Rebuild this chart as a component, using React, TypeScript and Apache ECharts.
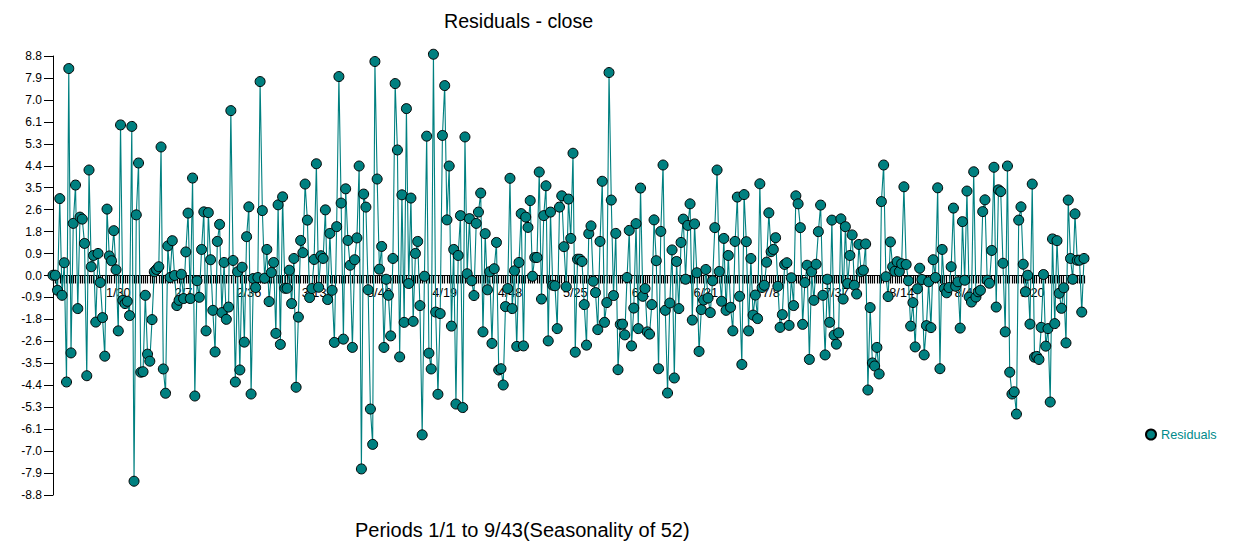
import React, { useEffect, useRef } from "react";
import * as echarts from "echarts";

const titleText = "Residuals - close";
const subtitleText = "Periods 1/1 to 9/43(Seasonality of 52)";
const seriesName = "Residuals";
const yMax = 8.76;
const yStep = 0.876;
const periodsPerYear = 52;
const labelEvery = 29;

const residuals = [
  0.01, 0.01, -0.59, 3.07, -0.79, 0.51, -4.25, 8.26, -3.09, 2.08,
  3.61, -1.32, 2.33, 2.25, 1.28, -4.0, 4.21, 0.35, 0.8, -1.86,
  0.88, -0.28, -1.68, -3.22, 2.65, 0.78, 0.59, 1.79, 0.23, -2.21,
  6.01, -0.99, -1.12, -1.03, -1.6, 5.95, -8.21, 2.42, 4.49, -3.86,
  -3.84, -0.79, -3.14, -3.42, -1.76, 0.15, 0.24, 0.35, 5.13, -3.73,
  -4.7, 1.18, -0.08, 1.39, 0.0, -1.2, -0.99, 0.05, -0.92, 0.94,
  2.49, -0.92, 3.89, -4.81, -0.21, -0.87, 1.04, 2.54, -2.21, 2.51,
  0.63, -1.39, -3.05, 1.36, 2.04, -1.48, 0.52, -1.75, -1.26, 6.58,
  0.6, -4.25, 0.15, -3.77, 0.33, -2.66, 1.55, 2.74, -4.73, -0.12,
  -0.48, -0.08, 7.74, 2.59, -0.11, 1.04, -1.04, 0.12, 0.52, -2.31,
  2.82, -2.75, 3.14, -0.51, -0.51, 0.21, -1.12, 0.68, -4.46, -1.66,
  1.4, 0.91, 3.65, 2.21, -0.88, -0.52, 0.64, 4.46, -0.47, 0.79,
  0.68, 2.62, -0.96, 1.68, -0.59, -2.67, 1.95, 7.94, 2.89, -2.54,
  3.46, 1.4, 0.41, -2.87, 0.63, 1.5, 4.37, -7.72, 3.25, 2.73,
  -0.57, -5.33, -6.74, 8.54, 3.85, 0.25, 1.16, -2.87, -0.15, -0.79,
  -2.41, 0.68, 7.66, 5.01, -3.25, 3.22, -1.87, 6.66, -0.32, 3.09,
  -1.83, 0.88, 1.36, -1.2, -6.36, -0.03, 5.56, -3.1, -3.73, 8.83,
  -1.46, -4.74, -1.52, 5.59, 7.58, 2.22, 4.37, -2.02, 1.04, -5.13,
  0.8, 2.39, -5.27, 5.53, 0.07, 2.27, -0.21, -0.8, 2.08, 2.53,
  3.29, -2.25, 1.67, -0.57, 0.15, -2.71, 0.27, 1.32, -3.77, -3.72,
  -4.37, -1.24, -0.52, 3.88, -1.32, 0.19, -2.83, 0.52, 2.47, -2.81,
  2.33, 1.92, 2.99, -0.03, 0.72, 0.72, 4.13, -0.94, 2.39, 3.58,
  -2.61, 2.53, -0.39, -0.41, -2.12, 2.73, 3.18, 1.15, -0.45, 3.05,
  1.48, 4.88, -3.06, 0.65, 0.65, 0.56, -1.16, -2.78, 1.67, 1.98,
  -0.23, -0.68, -2.16, 1.36, 3.76, -1.87, -1.08, 8.1, 3.01, -0.8,
  1.68, -3.76, -1.95, -1.94, -2.37, -0.08, 1.8, -2.81, -1.3, 2.07,
  -2.12, 3.49, -0.83, -0.52, -2.25, -2.34, -1.16, 2.22, 0.59, -3.72,
  1.76, 4.41, -1.39, -4.69, -1.1, 1.02, -4.09, 0.56, -1.32, 1.32,
  2.25, -0.15, 2.0, 2.86, -1.78, 2.06, 0.11, -3.03, -1.36, -0.98,
  0.24, -0.9, -1.48, -0.21, 1.91, 4.21, 0.16, -1.03, 1.48, -1.39,
  0.8, -1.27, -2.21, 1.36, 3.13, -0.83, -3.55, 3.23, 1.35, -2.21,
  0.68, -1.58, -0.78, -1.72, 3.66, -0.48, -0.39, 0.53, 2.5, 0.95,
  1.04, 1.51, -0.43, -2.07, -1.56, 0.44, 0.51, -1.99, -0.09, -1.2,
  3.18, 2.86, 1.91, -1.95, -0.28, 0.41, -3.35, 0.15, -0.99, 0.45,
  1.75, 2.81, -0.79, -3.17, -0.15, -1.87, 2.21, -2.38, -2.74, -2.29,
  2.26, -0.94, 1.95, -0.32, 0.8, 1.62, -0.39, -0.74, 1.24, 0.15,
  0.21, 1.26, -4.57, -1.28, -3.49, -3.61, -2.87, -3.93, 2.95, 4.41,
  -0.05, -0.84, 1.34, 0.35, 0.17, 0.55, 0.16, 0.47, 3.54, 0.44,
  -0.21, -2.02, -1.08, -2.85, -0.53, 0.29, -0.16, -3.17, -2.0, -0.25,
  -2.08, 0.63, -0.08, 3.5, -3.72, 1.04, -0.52, -0.69, -0.48, 0.35,
  2.69, -0.43, -0.25, -2.1, 2.15, -0.19, 3.37, -0.86, -1.06, 4.14,
  -0.86, -0.65, -0.59, 2.55, 3.02, -0.19, -0.31, 1.0, 4.32, -1.26,
  3.42, 3.35, 0.49, -2.25, 4.37, -3.86, -4.73, -4.64, -5.53, 2.21,
  2.74, 0.45, -0.65, 0.01, -1.94, 3.65, -3.26, -3.23, -3.35, -2.07,
  0.04, -2.82, -2.12, -5.05, 1.46, -1.92, 1.39, -0.71, -1.31, -0.49,
  -2.69, 3.01, 0.68, -0.15, 2.46, 0.61, 0.61, -1.46, 0.68,
];

const categories = residuals.map(
  (_, i) => `${Math.floor(i / periodsPerYear) + 1}/${(i % periodsPerYear) + 1}`
);

const FONT = "'Liberation Sans', Arial, sans-serif";

export default function App() {
  const ref = useRef<HTMLDivElement>(null);

  useEffect(() => {
    document.body.style.margin = "0";
    const chart = echarts.init(ref.current!, undefined, { renderer: "svg" });
    chart.setOption({
      animation: false,
      backgroundColor: "#ffffff",
      title: [
        {
          text: titleText,
          left: 444,
          top: 11,
          padding: 0,
          textStyle: { fontFamily: FONT, fontSize: 19.6, fontWeight: "normal", color: "#000" },
        },
        {
          text: subtitleText,
          left: 355,
          top: 520,
          padding: 0,
          textStyle: { fontFamily: FONT, fontSize: 20, fontWeight: "normal", color: "#000" },
        },
      ],
      legend: {
        left: 1145,
        top: 428,
        padding: 0,
        itemWidth: 10,
        itemHeight: 10,
        itemGap: 0,
        icon: "circle",
        data: [seriesName],
        textStyle: { fontFamily: FONT, fontSize: 12.7, color: "#008b8b" },
      },
      grid: { left: 53, top: 56, width: 1031, height: 439, containLabel: false },
      xAxis: {
        type: "category",
        data: categories,
        boundaryGap: false,
        axisLine: { onZero: true, lineStyle: { color: "#000", width: 1 } },
        axisTick: {
          show: true,
          interval: 0,
          length: 8,
          alignWithLabel: true,
          lineStyle: { color: "#000", width: 1.2 },
        },
        axisLabel: {
          interval: (i: number) => i > 0 && i % labelEvery === 0,
          margin: -208.5,
          hideOverlap: false,
          fontFamily: FONT,
          fontSize: 12.7,
          color: "#000",
        },
        splitLine: { show: false },
      },
      yAxis: {
        type: "value",
        min: -yMax,
        max: yMax,
        interval: yStep,
        axisLine: { show: true, onZero: false, lineStyle: { color: "#000", width: 1 } },
        axisTick: { show: true, length: 9, lineStyle: { color: "#000", width: 1 } },
        axisLabel: {
          margin: 11,
          fontFamily: FONT,
          fontSize: 12,
          color: "#000",
          showMinLabel: true,
          showMaxLabel: true,
          formatter: (v: number) => (Math.abs(v) < 1e-6 ? "0.0" : v.toFixed(1)),
        },
        splitLine: { show: false },
      },
      series: [
        {
          name: seriesName,
          type: "line",
          data: residuals,
          clip: false,
          showSymbol: true,
          showAllSymbol: true,
          symbol: "circle",
          symbolSize: 10,
          lineStyle: { color: "#008080", width: 1.1 },
          itemStyle: { color: "#008080", borderColor: "#000", borderWidth: 1 },
          emphasis: { disabled: true },
          silent: true,
        },
      ],
    });
    return () => chart.dispose();
  }, []);

  return (
    <div
      ref={ref}
      style={{ position: "absolute", left: 0, top: 0, width: 1252, height: 559 }}
    />
  );
}
